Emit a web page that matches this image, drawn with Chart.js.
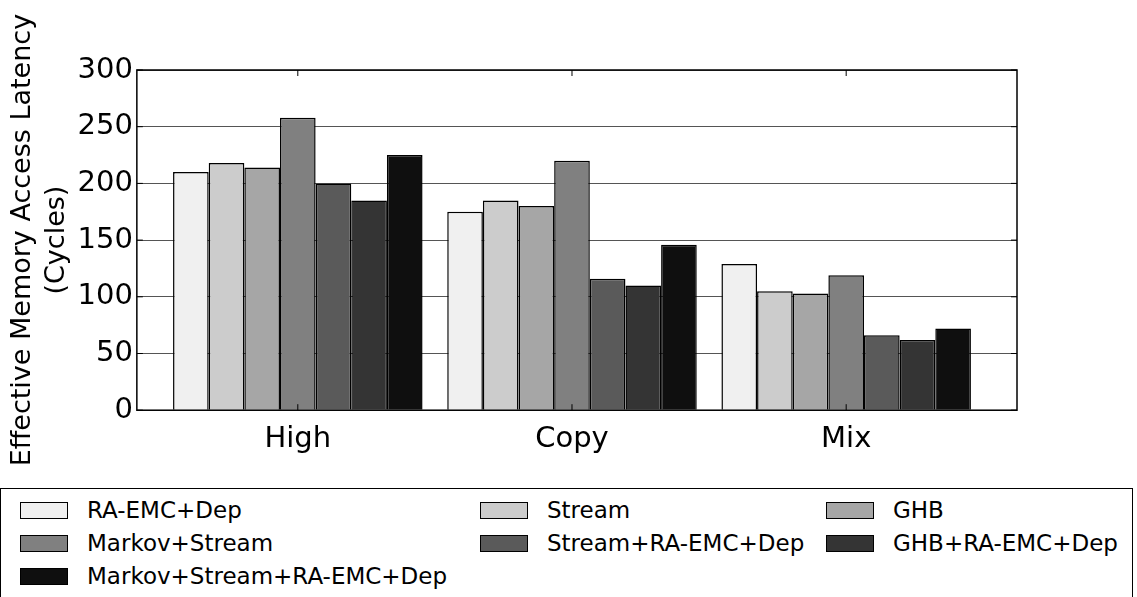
<html lang="en">
<head>
  <meta charset="utf-8">
  <title>Effective memory access latency</title>
  <style>
    body { margin: 0; background: #fff; font-family: "DejaVu Sans", sans-serif; }
    #wrap { position: relative; width: 1137px; height: 597px; overflow: hidden; }
    #chartBox { position: absolute; left: 0; top: 0; width: 1137px; height: 480px; }
    #legend {
      position: absolute; left: 0; top: 488px; width: 1133px; height: 130px;
      border: 1.5px solid #000; box-sizing: border-box;
    }
    .item { position: absolute; display: flex; align-items: center; font-size: 23px; color: #000; }
    .sw { width: 46px; height: 15px; border: 1.5px solid #000; margin-right: 19px; }
  </style>
</head>

<body>
  <div id="wrap">
    <div id="chartBox"><canvas id="myChart"></canvas></div>
    <div id="legend"></div>
  </div>
  <script src="https://cdn.jsdelivr.net/npm/chart.js"></script>
  <script>
    // categories and series
    const categories = ['High', 'Copy', 'Mix']
    const seriesNames = ['RA-EMC+Dep', 'Stream', 'GHB', 'Markov+Stream',
      'Stream+RA-EMC+Dep', 'GHB+RA-EMC+Dep', 'Markov+Stream+RA-EMC+Dep']
    const raEmcDep = [210, 175, 129]
    const stream = [218, 185, 105]
    const ghb = [214, 180, 103]
    const markovStream = [258, 220, 119]
    const streamRaEmcDep = [200, 116, 66]
    const ghbRaEmcDep = [185, 110, 62]
    const markovStreamRaEmcDep = [225, 146, 72]
    const yTicks = [0, 50, 100, 150, 200, 250, 300]

    const seriesValues = [raEmcDep, stream, ghb, markovStream, streamRaEmcDep, ghbRaEmcDep, markovStreamRaEmcDep]
    const fills = ['#f0f0f0', '#cccccc', '#a6a6a6', '#808080', '#5a5a5a', '#343434', '#0f0f0f']

    // box around the plot plus matplotlib style inward ticks
    const frame = {
      id: 'frame',
      afterDraw(chart) {
        const { ctx, chartArea: a, scales } = chart
        ctx.save()
        ctx.strokeStyle = '#000'
        ctx.lineWidth = 1.5
        ctx.strokeRect(a.left, a.top, a.right - a.left, a.bottom - a.top)
        ctx.lineWidth = 1
        ctx.beginPath()
        scales.y.ticks.forEach((t, i) => {
          const y = scales.y.getPixelForValue(t.value)
          ctx.moveTo(a.left, y); ctx.lineTo(a.left + 6, y)
          ctx.moveTo(a.right, y); ctx.lineTo(a.right - 6, y)
        })
        scales.x.ticks.forEach((t) => {
          const x = scales.x.getPixelForValue(t.value)
          ctx.moveTo(x, a.bottom); ctx.lineTo(x, a.bottom - 6)
          ctx.moveTo(x, a.top); ctx.lineTo(x, a.top + 6)
        })
        ctx.stroke()
        ctx.restore()
      }
    }

    const ctx = document.getElementById('myChart')
    const myChart = new Chart(ctx, {
      type: 'bar',
      data: {
        datasets: seriesNames.map((name, i) => ({
          label: name,
          data: seriesValues[i].map((v, j) => ({ x: j, y: v })),
          backgroundColor: fills[i],
          borderColor: '#000',
          borderWidth: 1.5,
          categoryPercentage: 0.91,
          barPercentage: 1.0
        }))
      },
      options: {
        responsive: true,
        maintainAspectRatio: false,
        animation: false,
        layout: { padding: { top: 70, right: 120, bottom: 19, left: 2 } },
        plugins: {
          legend: { display: false },
          tooltip: { enabled: false }
        },
        scales: {
          x: {
            type: 'linear',
            offset: false,
            min: -0.587,
            max: 2.623,
            afterBuildTicks: (scale) => { scale.ticks = categories.map((c, j) => ({ value: j })) },
            grid: { display: false },
            border: { display: false },
            ticks: {
              color: '#000', font: { family: 'DejaVu Sans', size: 29 }, padding: 4,
              callback: (v) => categories[v]
            }
          },
          y: {
            min: 0,
            max: 300,
            afterBuildTicks: (scale) => { scale.ticks = yTicks.map(v => ({ value: v })) },
            grid: { color: '#555', lineWidth: 1, drawTicks: false },
            border: { display: false },
            ticks: { color: '#000', font: { family: 'DejaVu Sans', size: 29 }, padding: 4 },
            title: {
              display: true,
              text: ['Effective Memory Access Latency', '(Cycles)'],
              color: '#000',
              font: { family: 'DejaVu Sans', size: 27, lineHeight: 1.25 },
              padding: { top: 4, bottom: 0 }
            }
          }
        }
      },
      plugins: [frame]
    })

    // legend laid out in three columns like the original
    const legend = document.getElementById('legend')
    const colX = [20, 480, 826]
    const rowY = [8, 41, 74]
    seriesNames.forEach((name, i) => {
      const el = document.createElement('div')
      el.className = 'item'
      el.style.left = (colX[i % 3] - 1) + 'px'
      el.style.top = rowY[Math.floor(i / 3)] + 'px'
      el.innerHTML = '<span class="sw" style="background:' + fills[i] + '"></span><span>' + name + '</span>'
      legend.appendChild(el)
    })
  </script>
</body>

</html>
